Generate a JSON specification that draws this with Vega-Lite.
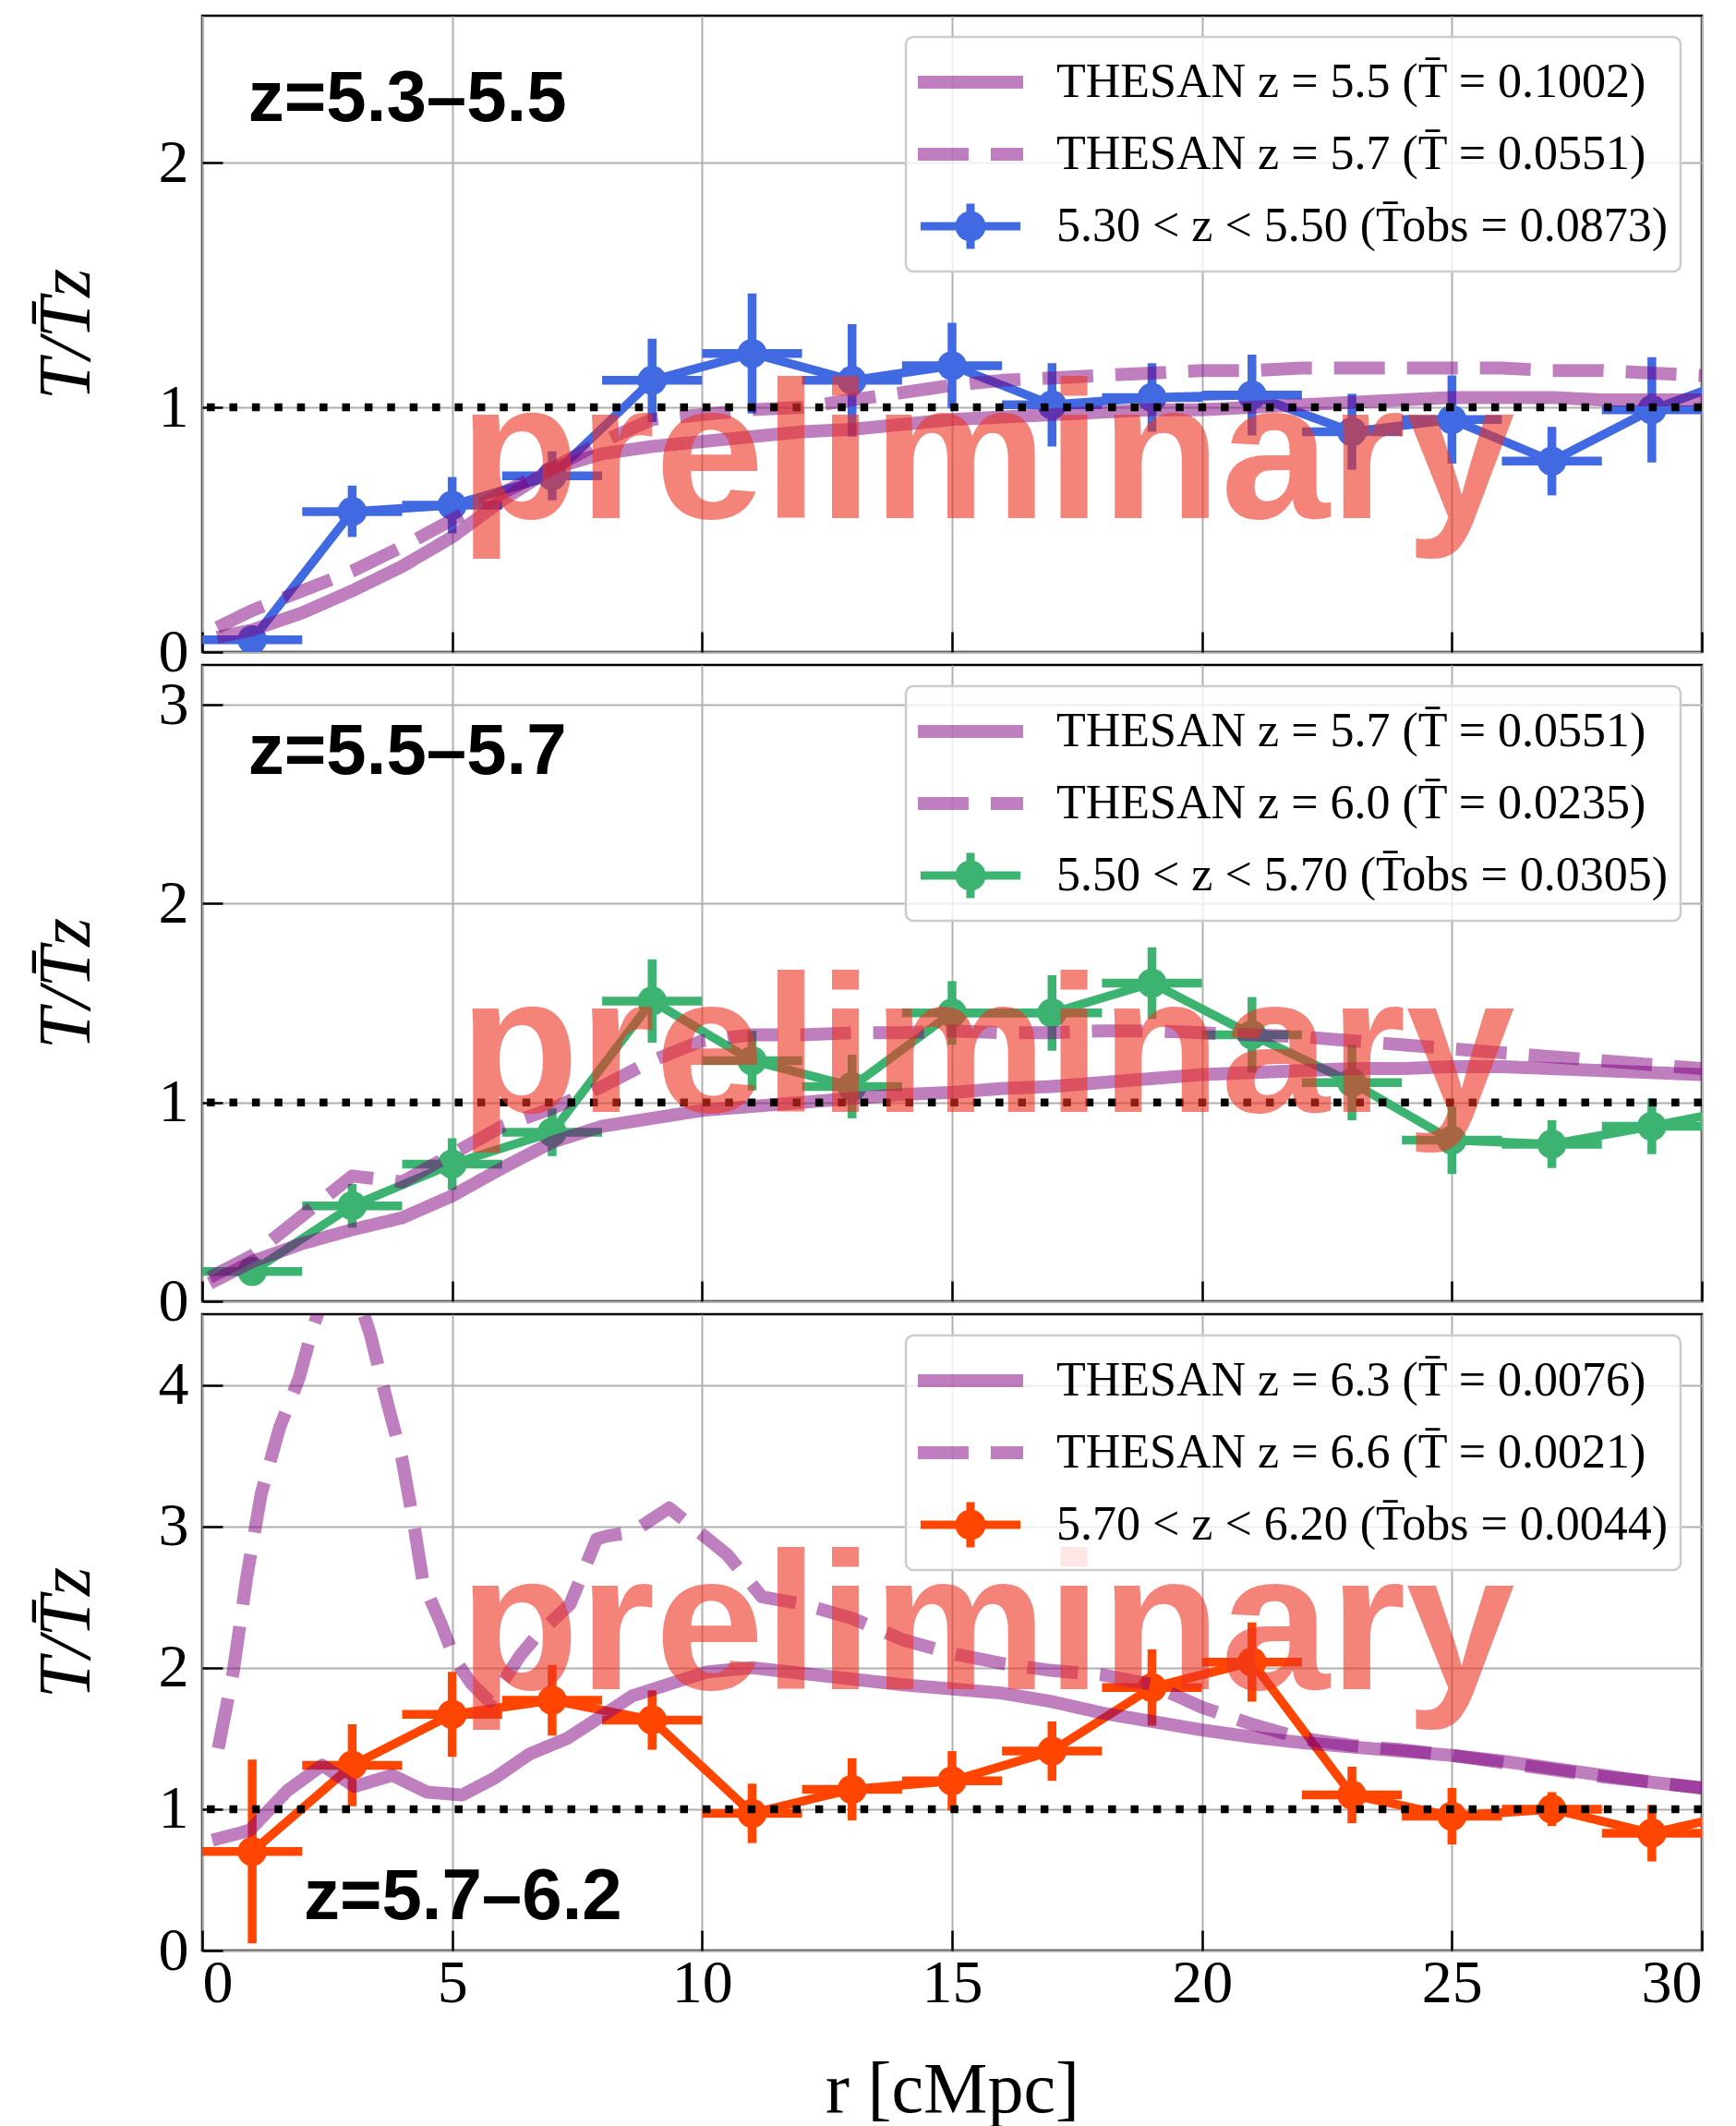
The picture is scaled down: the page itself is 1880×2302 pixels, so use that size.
{
"$schema": "https://vega.github.io/schema/vega-lite/v6.json",
"background": "white",
"padding": {"left": 30, "top": 15, "right": 10, "bottom": 10},
"spacing": 14,
"bounds": "flush",
"config": {
  "view": {"stroke": "black", "strokeWidth": 2.5},
  "axis": {"domain": false, "grid": true, "tickColor": "black", "tickWidth": 2.5, "tickSize": -22, "labelFont": "Liberation Serif", "labelFontSize": 66, "labelColor": "black", "gridColor": "#b0b0b0", "gridWidth": 2, "gridOpacity": 1, "titleFont": "Liberation Serif", "titleFontSize": 74, "titleFontWeight": "normal", "titleColor": "black"},
  "axisY": {"labelPadding": 37, "titlePadding": 58, "titleFontStyle": "italic", "titleFontSize": 80},
  "axisX": {"labelPadding": 25, "titlePadding": 44, "titleFontSize": 78},
  "legend": {"orient": "top-right", "offset": 23, "padding": 13, "rowPadding": 6, "clipHeight": 72, "fillColor": "rgba(255,255,255,0.8)", "strokeColor": "#cccccc", "cornerRadius": 8, "labelFont": "Liberation Serif", "labelFontSize": 52, "labelColor": "black", "labelLimit": 1500, "symbolSize": 2116, "symbolOffset": 31, "labelOffset": 67, "symbolStrokeWidth": 14}
},
"datasets": {
  "obs1": [
    {"r":1,"rlo":0,"rhi":2,"T":0.05,"lo":0.01,"hi":0.09},
    {"r":3,"rlo":2,"rhi":4,"T":0.574,"lo":0.47,"hi":0.68},
    {"r":5,"rlo":4,"rhi":6,"T":0.6,"lo":0.485,"hi":0.715},
    {"r":7,"rlo":6,"rhi":8,"T":0.72,"lo":0.62,"hi":0.82},
    {"r":9,"rlo":8,"rhi":10,"T":1.11,"lo":0.94,"hi":1.28},
    {"r":11,"rlo":10,"rhi":12,"T":1.22,"lo":0.975,"hi":1.465},
    {"r":13,"rlo":12,"rhi":14,"T":1.11,"lo":0.88,"hi":1.34},
    {"r":15,"rlo":14,"rhi":16,"T":1.17,"lo":0.995,"hi":1.345},
    {"r":17,"rlo":16,"rhi":18,"T":1.01,"lo":0.84,"hi":1.18},
    {"r":19,"rlo":18,"rhi":20,"T":1.04,"lo":0.9,"hi":1.18},
    {"r":21,"rlo":20,"rhi":22,"T":1.05,"lo":0.885,"hi":1.215},
    {"r":23,"rlo":22,"rhi":24,"T":0.9,"lo":0.745,"hi":1.055},
    {"r":25,"rlo":24,"rhi":26,"T":0.95,"lo":0.77,"hi":1.13},
    {"r":27,"rlo":26,"rhi":28,"T":0.78,"lo":0.64,"hi":0.92},
    {"r":29,"rlo":28,"rhi":30,"T":0.99,"lo":0.775,"hi":1.205},
    {"r":31,"rlo":30,"rhi":32,"T":1.14,"lo":0.95,"hi":1.33}
  ],
  "obs2": [
    {"r":1,"rlo":0,"rhi":2,"T":0.15,"lo":0.12,"hi":0.18},
    {"r":3,"rlo":2,"rhi":4,"T":0.48,"lo":0.37,"hi":0.59},
    {"r":5,"rlo":4,"rhi":6,"T":0.69,"lo":0.56,"hi":0.82},
    {"r":7,"rlo":6,"rhi":8,"T":0.85,"lo":0.73,"hi":0.97},
    {"r":9,"rlo":8,"rhi":10,"T":1.51,"lo":1.3,"hi":1.72},
    {"r":11,"rlo":10,"rhi":12,"T":1.21,"lo":1.06,"hi":1.36},
    {"r":13,"rlo":12,"rhi":14,"T":1.08,"lo":0.92,"hi":1.24},
    {"r":15,"rlo":14,"rhi":16,"T":1.45,"lo":1.29,"hi":1.61},
    {"r":17,"rlo":16,"rhi":18,"T":1.45,"lo":1.26,"hi":1.64},
    {"r":19,"rlo":18,"rhi":20,"T":1.6,"lo":1.42,"hi":1.78},
    {"r":21,"rlo":20,"rhi":22,"T":1.34,"lo":1.15,"hi":1.53},
    {"r":23,"rlo":22,"rhi":24,"T":1.1,"lo":0.91,"hi":1.29},
    {"r":25,"rlo":24,"rhi":26,"T":0.81,"lo":0.64,"hi":0.98},
    {"r":27,"rlo":26,"rhi":28,"T":0.79,"lo":0.67,"hi":0.91},
    {"r":29,"rlo":28,"rhi":30,"T":0.88,"lo":0.74,"hi":1.02},
    {"r":31,"rlo":30,"rhi":32,"T":0.98,"lo":0.84,"hi":1.12}
  ],
  "obs3": [
    {"r":1,"rlo":0,"rhi":2,"T":0.7,"lo":0.05,"hi":1.35},
    {"r":3,"rlo":2,"rhi":4,"T":1.31,"lo":1.02,"hi":1.6},
    {"r":5,"rlo":4,"rhi":6,"T":1.67,"lo":1.37,"hi":1.97},
    {"r":7,"rlo":6,"rhi":8,"T":1.77,"lo":1.52,"hi":2.02},
    {"r":9,"rlo":8,"rhi":10,"T":1.63,"lo":1.42,"hi":1.84},
    {"r":11,"rlo":10,"rhi":12,"T":0.97,"lo":0.76,"hi":1.18},
    {"r":13,"rlo":12,"rhi":14,"T":1.14,"lo":0.92,"hi":1.36},
    {"r":15,"rlo":14,"rhi":16,"T":1.2,"lo":0.99,"hi":1.41},
    {"r":17,"rlo":16,"rhi":18,"T":1.41,"lo":1.2,"hi":1.62},
    {"r":19,"rlo":18,"rhi":20,"T":1.86,"lo":1.59,"hi":2.13},
    {"r":21,"rlo":20,"rhi":22,"T":2.04,"lo":1.76,"hi":2.32},
    {"r":23,"rlo":22,"rhi":24,"T":1.1,"lo":0.9,"hi":1.3},
    {"r":25,"rlo":24,"rhi":26,"T":0.95,"lo":0.75,"hi":1.15},
    {"r":27,"rlo":26,"rhi":28,"T":1.0,"lo":0.88,"hi":1.12},
    {"r":29,"rlo":28,"rhi":30,"T":0.83,"lo":0.63,"hi":1.03},
    {"r":31,"rlo":30,"rhi":32,"T":0.99,"lo":0.8,"hi":1.18}
  ],
  "th1": [
    {"series":"a","kind":"solid","r":0.3,"T":0.06},{"series":"a","kind":"solid","r":1,"T":0.09},{"series":"a","kind":"solid","r":2,"T":0.16},{"series":"a","kind":"solid","r":3,"T":0.25},{"series":"a","kind":"solid","r":4,"T":0.35},{"series":"a","kind":"solid","r":5,"T":0.47},{"series":"a","kind":"solid","r":6,"T":0.62},{"series":"a","kind":"solid","r":7,"T":0.75},{"series":"a","kind":"solid","r":8,"T":0.81},{"series":"a","kind":"solid","r":9,"T":0.84},{"series":"a","kind":"solid","r":10,"T":0.86},{"series":"a","kind":"solid","r":11,"T":0.88},{"series":"a","kind":"solid","r":12,"T":0.9},{"series":"a","kind":"solid","r":13,"T":0.91},{"series":"a","kind":"solid","r":14,"T":0.93},{"series":"a","kind":"solid","r":15,"T":0.95},{"series":"a","kind":"solid","r":16,"T":0.96},{"series":"a","kind":"solid","r":17,"T":0.97},{"series":"a","kind":"solid","r":18,"T":0.98},{"series":"a","kind":"solid","r":19,"T":0.99},{"series":"a","kind":"solid","r":20,"T":0.99},{"series":"a","kind":"solid","r":21,"T":1.0},{"series":"a","kind":"solid","r":22,"T":1.01},{"series":"a","kind":"solid","r":23,"T":1.02},{"series":"a","kind":"solid","r":24,"T":1.03},{"series":"a","kind":"solid","r":25,"T":1.04},{"series":"a","kind":"solid","r":26,"T":1.04},{"series":"a","kind":"solid","r":27,"T":1.04},{"series":"a","kind":"solid","r":28,"T":1.03},{"series":"a","kind":"solid","r":29,"T":1.03},{"series":"a","kind":"solid","r":30,"T":1.03},
    {"series":"b","kind":"dashed","r":0.3,"T":0.1},{"series":"b","kind":"dashed","r":1,"T":0.17},{"series":"b","kind":"dashed","r":2,"T":0.25},{"series":"b","kind":"dashed","r":3,"T":0.33},{"series":"b","kind":"dashed","r":4,"T":0.43},{"series":"b","kind":"dashed","r":5,"T":0.54},{"series":"b","kind":"dashed","r":6,"T":0.65},{"series":"b","kind":"dashed","r":7,"T":0.75},{"series":"b","kind":"dashed","r":8,"T":0.86},{"series":"b","kind":"dashed","r":9,"T":0.95},{"series":"b","kind":"dashed","r":10,"T":0.97},{"series":"b","kind":"dashed","r":11,"T":0.99},{"series":"b","kind":"dashed","r":12,"T":1.0},{"series":"b","kind":"dashed","r":13,"T":1.03},{"series":"b","kind":"dashed","r":14,"T":1.06},{"series":"b","kind":"dashed","r":15,"T":1.09},{"series":"b","kind":"dashed","r":16,"T":1.11},{"series":"b","kind":"dashed","r":17,"T":1.12},{"series":"b","kind":"dashed","r":18,"T":1.13},{"series":"b","kind":"dashed","r":19,"T":1.14},{"series":"b","kind":"dashed","r":20,"T":1.15},{"series":"b","kind":"dashed","r":21,"T":1.15},{"series":"b","kind":"dashed","r":22,"T":1.16},{"series":"b","kind":"dashed","r":23,"T":1.16},{"series":"b","kind":"dashed","r":24,"T":1.16},{"series":"b","kind":"dashed","r":25,"T":1.16},{"series":"b","kind":"dashed","r":26,"T":1.16},{"series":"b","kind":"dashed","r":27,"T":1.15},{"series":"b","kind":"dashed","r":28,"T":1.15},{"series":"b","kind":"dashed","r":29,"T":1.14},{"series":"b","kind":"dashed","r":30,"T":1.13}
  ],
  "th2": [
    {"series":"a","kind":"solid","r":0.15,"T":0.09},{"series":"a","kind":"solid","r":1,"T":0.2},{"series":"a","kind":"solid","r":2,"T":0.29},{"series":"a","kind":"solid","r":3,"T":0.36},{"series":"a","kind":"solid","r":4,"T":0.42},{"series":"a","kind":"solid","r":5,"T":0.53},{"series":"a","kind":"solid","r":6,"T":0.67},{"series":"a","kind":"solid","r":7,"T":0.8},{"series":"a","kind":"solid","r":8,"T":0.88},{"series":"a","kind":"solid","r":9,"T":0.92},{"series":"a","kind":"solid","r":10,"T":0.96},{"series":"a","kind":"solid","r":11,"T":0.98},{"series":"a","kind":"solid","r":12,"T":1.0},{"series":"a","kind":"solid","r":13,"T":1.02},{"series":"a","kind":"solid","r":14,"T":1.04},{"series":"a","kind":"solid","r":15,"T":1.05},{"series":"a","kind":"solid","r":16,"T":1.07},{"series":"a","kind":"solid","r":17,"T":1.08},{"series":"a","kind":"solid","r":18,"T":1.1},{"series":"a","kind":"solid","r":19,"T":1.12},{"series":"a","kind":"solid","r":20,"T":1.14},{"series":"a","kind":"solid","r":21,"T":1.15},{"series":"a","kind":"solid","r":22,"T":1.16},{"series":"a","kind":"solid","r":23,"T":1.17},{"series":"a","kind":"solid","r":24,"T":1.17},{"series":"a","kind":"solid","r":25,"T":1.18},{"series":"a","kind":"solid","r":26,"T":1.18},{"series":"a","kind":"solid","r":27,"T":1.17},{"series":"a","kind":"solid","r":28,"T":1.16},{"series":"a","kind":"solid","r":29,"T":1.15},{"series":"a","kind":"solid","r":30,"T":1.14},
    {"series":"b","kind":"dashed","r":0.15,"T":0.12},{"series":"b","kind":"dashed","r":1,"T":0.23},{"series":"b","kind":"dashed","r":2,"T":0.43},{"series":"b","kind":"dashed","r":3,"T":0.63},{"series":"b","kind":"dashed","r":4,"T":0.6},{"series":"b","kind":"dashed","r":5,"T":0.74},{"series":"b","kind":"dashed","r":6,"T":0.88},{"series":"b","kind":"dashed","r":7,"T":0.97},{"series":"b","kind":"dashed","r":8,"T":1.08},{"series":"b","kind":"dashed","r":9,"T":1.21},{"series":"b","kind":"dashed","r":10,"T":1.31},{"series":"b","kind":"dashed","r":11,"T":1.34},{"series":"b","kind":"dashed","r":12,"T":1.34},{"series":"b","kind":"dashed","r":13,"T":1.35},{"series":"b","kind":"dashed","r":14,"T":1.35},{"series":"b","kind":"dashed","r":15,"T":1.36},{"series":"b","kind":"dashed","r":16,"T":1.35},{"series":"b","kind":"dashed","r":17,"T":1.35},{"series":"b","kind":"dashed","r":18,"T":1.36},{"series":"b","kind":"dashed","r":19,"T":1.36},{"series":"b","kind":"dashed","r":20,"T":1.35},{"series":"b","kind":"dashed","r":21,"T":1.34},{"series":"b","kind":"dashed","r":22,"T":1.33},{"series":"b","kind":"dashed","r":23,"T":1.31},{"series":"b","kind":"dashed","r":24,"T":1.29},{"series":"b","kind":"dashed","r":25,"T":1.27},{"series":"b","kind":"dashed","r":26,"T":1.25},{"series":"b","kind":"dashed","r":27,"T":1.23},{"series":"b","kind":"dashed","r":28,"T":1.21},{"series":"b","kind":"dashed","r":29,"T":1.19},{"series":"b","kind":"dashed","r":30,"T":1.17}
  ],
  "th3": [
    {"series":"a","kind":"solid","r":0.2,"T":0.78},{"series":"a","kind":"solid","r":0.95,"T":0.85},{"series":"a","kind":"solid","r":1.7,"T":1.13},{"series":"a","kind":"solid","r":2.4,"T":1.31},{"series":"a","kind":"solid","r":3.05,"T":1.16},{"series":"a","kind":"solid","r":3.8,"T":1.24},{"series":"a","kind":"solid","r":4.5,"T":1.12},{"series":"a","kind":"solid","r":5.2,"T":1.1},{"series":"a","kind":"solid","r":5.85,"T":1.22},{"series":"a","kind":"solid","r":6.55,"T":1.39},{"series":"a","kind":"solid","r":7.3,"T":1.5},{"series":"a","kind":"solid","r":8.0,"T":1.66},{"series":"a","kind":"solid","r":8.6,"T":1.8},{"series":"a","kind":"solid","r":9.3,"T":1.88},{"series":"a","kind":"solid","r":10.1,"T":1.97},{"series":"a","kind":"solid","r":11,"T":2.0},{"series":"a","kind":"solid","r":12,"T":1.96},{"series":"a","kind":"solid","r":13,"T":1.92},{"series":"a","kind":"solid","r":14,"T":1.88},{"series":"a","kind":"solid","r":15,"T":1.85},{"series":"a","kind":"solid","r":16,"T":1.82},{"series":"a","kind":"solid","r":17,"T":1.76},{"series":"a","kind":"solid","r":18,"T":1.68},{"series":"a","kind":"solid","r":19,"T":1.62},{"series":"a","kind":"solid","r":20,"T":1.56},{"series":"a","kind":"solid","r":21,"T":1.51},{"series":"a","kind":"solid","r":22,"T":1.47},{"series":"a","kind":"solid","r":23,"T":1.44},{"series":"a","kind":"solid","r":24,"T":1.41},{"series":"a","kind":"solid","r":25,"T":1.38},{"series":"a","kind":"solid","r":26,"T":1.34},{"series":"a","kind":"solid","r":27,"T":1.29},{"series":"a","kind":"solid","r":28,"T":1.24},{"series":"a","kind":"solid","r":29,"T":1.19},{"series":"a","kind":"solid","r":30,"T":1.15},
    {"series":"b","kind":"dashed","r":0.32,"T":1.43},{"series":"b","kind":"dashed","r":0.62,"T":1.97},{"series":"b","kind":"dashed","r":0.89,"T":2.64},{"series":"b","kind":"dashed","r":1.18,"T":3.23},{"series":"b","kind":"dashed","r":1.55,"T":3.7},{"series":"b","kind":"dashed","r":1.94,"T":4.05},{"series":"b","kind":"dashed","r":2.2,"T":4.39},{"series":"b","kind":"dashed","r":2.75,"T":4.95},{"series":"b","kind":"dashed","r":3.23,"T":4.5},{"series":"b","kind":"dashed","r":3.36,"T":4.36},{"series":"b","kind":"dashed","r":3.72,"T":3.85},{"series":"b","kind":"dashed","r":3.99,"T":3.49},{"series":"b","kind":"dashed","r":4.25,"T":2.98},{"series":"b","kind":"dashed","r":4.42,"T":2.6},{"series":"b","kind":"dashed","r":4.78,"T":2.31},{"series":"b","kind":"dashed","r":5.05,"T":2.06},{"series":"b","kind":"dashed","r":5.38,"T":1.89},{"series":"b","kind":"dashed","r":5.75,"T":1.76},{"series":"b","kind":"dashed","r":6.37,"T":2.09},{"series":"b","kind":"dashed","r":6.7,"T":2.23},{"series":"b","kind":"dashed","r":7.36,"T":2.45},{"series":"b","kind":"dashed","r":7.89,"T":2.91},{"series":"b","kind":"dashed","r":8.08,"T":2.93},{"series":"b","kind":"dashed","r":8.61,"T":2.96},{"series":"b","kind":"dashed","r":9.34,"T":3.13},{"series":"b","kind":"dashed","r":9.87,"T":2.98},{"series":"b","kind":"dashed","r":10.5,"T":2.8},{"series":"b","kind":"dashed","r":11.2,"T":2.5},{"series":"b","kind":"dashed","r":12,"T":2.45},{"series":"b","kind":"dashed","r":13,"T":2.35},{"series":"b","kind":"dashed","r":14,"T":2.2},{"series":"b","kind":"dashed","r":15,"T":2.1},{"series":"b","kind":"dashed","r":16,"T":2.03},{"series":"b","kind":"dashed","r":17,"T":1.98},{"series":"b","kind":"dashed","r":18,"T":1.95},{"series":"b","kind":"dashed","r":19,"T":1.88},{"series":"b","kind":"dashed","r":20,"T":1.72},{"series":"b","kind":"dashed","r":21,"T":1.6},{"series":"b","kind":"dashed","r":22,"T":1.5},{"series":"b","kind":"dashed","r":23,"T":1.45},{"series":"b","kind":"dashed","r":24,"T":1.42},{"series":"b","kind":"dashed","r":25,"T":1.38},{"series":"b","kind":"dashed","r":26,"T":1.33},{"series":"b","kind":"dashed","r":27,"T":1.28},{"series":"b","kind":"dashed","r":28,"T":1.23},{"series":"b","kind":"dashed","r":29,"T":1.19},{"series":"b","kind":"dashed","r":30,"T":1.15}
  ]
},
"resolve": {"scale": {"x": "independent", "y": "independent", "color": "independent", "strokeDash": "independent"}, "legend": {"color": "independent", "strokeDash": "independent"}, "axis": {"x": "independent", "y": "independent"}},
"vconcat": [
{
  "width": 1624, "height": 689,
  "layer": [
    {"data": {"name": "obs1"}, "mark": {"type": "rule", "color": "#4169e1", "strokeWidth": 9.5, "clip": true},
     "encoding": {"x": {"field": "rlo", "type": "quantitative", "scale": {"domain": [0, 30], "nice": false, "zero": false}, "axis": {"values": [0,5,10,15,20,25,30], "labels": false, "title": null}}, "x2": {"field": "rhi"},
                  "y": {"field": "T", "type": "quantitative", "scale": {"domain": [0, 2.6], "nice": false}, "axis": {"values": [0,1,2], "title": "T/T\u0304z"}}}},
    {"data": {"name": "obs1"}, "mark": {"type": "rule", "color": "#4169e1", "strokeWidth": 9.5, "clip": true},
     "encoding": {"x": {"field": "r", "type": "quantitative", "scale": {"domain": [0, 30], "nice": false, "zero": false}, "axis": {"values": [0,5,10,15,20,25,30], "labels": false, "title": null}},
                  "y": {"field": "lo", "type": "quantitative", "scale": {"domain": [0, 2.6], "nice": false}, "axis": {"values": [0,1,2], "title": "T/T\u0304z"}}, "y2": {"field": "hi"}}},
    {"data": {"name": "obs1"}, "mark": {"type": "line", "color": "#4169e1", "strokeWidth": 9.5, "strokeJoin": "round", "clip": true},
     "encoding": {"x": {"field": "r", "type": "quantitative", "scale": {"domain": [0, 30], "nice": false, "zero": false}, "axis": {"values": [0,5,10,15,20,25,30], "labels": false, "title": null}},
                  "y": {"field": "T", "type": "quantitative", "scale": {"domain": [0, 2.6], "nice": false}, "axis": {"values": [0,1,2], "title": "T/T\u0304z"}}}},
    {"data": {"name": "obs1"}, "mark": {"type": "point", "filled": true, "size": 1000, "opacity": 1, "color": "#4169e1", "clip": true},
     "encoding": {"x": {"field": "r", "type": "quantitative", "scale": {"domain": [0, 30], "nice": false, "zero": false}, "axis": {"values": [0,5,10,15,20,25,30], "labels": false, "title": null}},
                  "y": {"field": "T", "type": "quantitative", "scale": {"domain": [0, 2.6], "nice": false}, "axis": {"values": [0,1,2], "title": "T/T\u0304z"}}}},
    {"data": {"name": "th1"}, "mark": {"type": "line", "strokeWidth": 14, "opacity": 0.5, "strokeJoin": "round", "clip": true},
     "encoding": {"x": {"field": "r", "type": "quantitative", "scale": {"domain": [0, 30], "nice": false, "zero": false}, "axis": {"values": [0,5,10,15,20,25,30], "labels": false, "title": null}},
                  "y": {"field": "T", "type": "quantitative", "scale": {"domain": [0, 2.6], "nice": false}, "axis": {"values": [0,1,2], "title": "T/T\u0304z"}},
                  "strokeDash": {"field": "kind", "type": "nominal", "scale": {"domain": ["solid", "dashed"], "range": [[1, 0], [55, 24]]}, "legend": null},
                  "color": {"field": "series", "type": "nominal", "scale": {"domain": ["a", "b", "o"], "range": ["purple", "purple", "#4169e1"]},
                    "legend": {"title": null,
                      "labelExpr": "datum.value === 'a' ? 'THESAN z = 5.5 (T\u0304 = 0.1002)' : datum.value === 'b' ? 'THESAN z = 5.7 (T\u0304 = 0.0551)' : '5.30 < z < 5.50 (T\u0304obs = 0.0873)'",
                      "encoding": {"legend": {"strokeWidth": {"value": 2.5}},
                        "symbols": {
                          "shape": {"value": {"expr": "datum.value === 'o' ? 'M-2.35,0H2.35M0,-1.07V1.07M0.52,0C0.52,0.287,0.287,0.52,0,0.52C-0.287,0.52,-0.52,0.287,-0.52,0C-0.52,-0.287,-0.287,-0.52,0,-0.52C0.287,-0.52,0.52,-0.287,0.52,0Z' : 'M-2.48,0H2.48'"}},
                          "fill": {"value": {"expr": "datum.value === 'o' ? '#4169e1' : 'transparent'"}},
                          "strokeWidth": {"value": {"expr": "datum.value === 'o' ? 9 : 14"}},
                          "strokeDash": {"value": {"expr": "datum.value === 'b' ? [55, 24] : [1, 0]"}},
                          "opacity": {"value": {"expr": "datum.value === 'o' ? 1 : 0.5"}}}}}}}},
    {"data": {"values": [{}]}, "mark": {"type": "rule", "color": "black", "strokeWidth": 8.5, "strokeDash": [8.5, 15.9]},
     "encoding": {"y": {"datum": 1, "type": "quantitative", "scale": {"domain": [0, 2.6], "nice": false}, "axis": {"values": [0,1,2], "title": "T/T\u0304z"}}}},
    {"data": {"values": [{}]}, "mark": {"type": "text", "font": "Liberation Sans", "fontWeight": "bold", "fontSize": 212, "color": "#ee3322", "opacity": 0.6, "align": "center", "baseline": "alphabetic"},
     "encoding": {"x": {"datum": 15.7, "type": "quantitative", "scale": {"domain": [0, 30], "nice": false, "zero": false}, "axis": {"values": [0,5,10,15,20,25,30], "labels": false, "title": null}},
                  "y": {"datum": 0.547, "type": "quantitative", "scale": {"domain": [0, 2.6], "nice": false}, "axis": {"values": [0,1,2], "title": "T/T\u0304z"}},
                  "text": {"value": "preliminary"}}},
    {"data": {"values": [{}]}, "mark": {"type": "text", "font": "Liberation Sans", "fontWeight": "bold", "fontSize": 78, "color": "black", "align": "left", "baseline": "alphabetic"},
     "encoding": {"x": {"datum": 0.92, "type": "quantitative", "scale": {"domain": [0, 30], "nice": false, "zero": false}, "axis": {"values": [0,5,10,15,20,25,30], "labels": false, "title": null}},
                  "y": {"datum": 2.17, "type": "quantitative", "scale": {"domain": [0, 2.6], "nice": false}, "axis": {"values": [0,1,2], "title": "T/T\u0304z"}},
                  "text": {"value": "z=5.3\u20135.5"}}}
  ]
},
{
  "width": 1624, "height": 689,
  "layer": [
    {"data": {"name": "obs2"}, "mark": {"type": "rule", "color": "#3cb371", "strokeWidth": 9.5, "clip": true},
     "encoding": {"x": {"field": "rlo", "type": "quantitative", "scale": {"domain": [0, 30], "nice": false, "zero": false}, "axis": {"values": [0,5,10,15,20,25,30], "labels": false, "title": null}}, "x2": {"field": "rhi"},
                  "y": {"field": "T", "type": "quantitative", "scale": {"domain": [0, 3.2], "nice": false}, "axis": {"values": [0,1,2,3], "title": "T/T\u0304z"}}}},
    {"data": {"name": "obs2"}, "mark": {"type": "rule", "color": "#3cb371", "strokeWidth": 9.5, "clip": true},
     "encoding": {"x": {"field": "r", "type": "quantitative", "scale": {"domain": [0, 30], "nice": false, "zero": false}, "axis": {"values": [0,5,10,15,20,25,30], "labels": false, "title": null}},
                  "y": {"field": "lo", "type": "quantitative", "scale": {"domain": [0, 3.2], "nice": false}, "axis": {"values": [0,1,2,3], "title": "T/T\u0304z"}}, "y2": {"field": "hi"}}},
    {"data": {"name": "obs2"}, "mark": {"type": "line", "color": "#3cb371", "strokeWidth": 9.5, "strokeJoin": "round", "clip": true},
     "encoding": {"x": {"field": "r", "type": "quantitative", "scale": {"domain": [0, 30], "nice": false, "zero": false}, "axis": {"values": [0,5,10,15,20,25,30], "labels": false, "title": null}},
                  "y": {"field": "T", "type": "quantitative", "scale": {"domain": [0, 3.2], "nice": false}, "axis": {"values": [0,1,2,3], "title": "T/T\u0304z"}}}},
    {"data": {"name": "obs2"}, "mark": {"type": "point", "filled": true, "size": 1000, "opacity": 1, "color": "#3cb371", "clip": true},
     "encoding": {"x": {"field": "r", "type": "quantitative", "scale": {"domain": [0, 30], "nice": false, "zero": false}, "axis": {"values": [0,5,10,15,20,25,30], "labels": false, "title": null}},
                  "y": {"field": "T", "type": "quantitative", "scale": {"domain": [0, 3.2], "nice": false}, "axis": {"values": [0,1,2,3], "title": "T/T\u0304z"}}}},
    {"data": {"name": "th2"}, "mark": {"type": "line", "strokeWidth": 14, "opacity": 0.5, "strokeJoin": "round", "clip": true},
     "encoding": {"x": {"field": "r", "type": "quantitative", "scale": {"domain": [0, 30], "nice": false, "zero": false}, "axis": {"values": [0,5,10,15,20,25,30], "labels": false, "title": null}},
                  "y": {"field": "T", "type": "quantitative", "scale": {"domain": [0, 3.2], "nice": false}, "axis": {"values": [0,1,2,3], "title": "T/T\u0304z"}},
                  "strokeDash": {"field": "kind", "type": "nominal", "scale": {"domain": ["solid", "dashed"], "range": [[1, 0], [55, 24]]}, "legend": null},
                  "color": {"field": "series", "type": "nominal", "scale": {"domain": ["a", "b", "o"], "range": ["purple", "purple", "#3cb371"]},
                    "legend": {"title": null,
                      "labelExpr": "datum.value === 'a' ? 'THESAN z = 5.7 (T\u0304 = 0.0551)' : datum.value === 'b' ? 'THESAN z = 6.0 (T\u0304 = 0.0235)' : '5.50 < z < 5.70 (T\u0304obs = 0.0305)'",
                      "encoding": {"legend": {"strokeWidth": {"value": 2.5}},
                        "symbols": {
                          "shape": {"value": {"expr": "datum.value === 'o' ? 'M-2.35,0H2.35M0,-1.07V1.07M0.52,0C0.52,0.287,0.287,0.52,0,0.52C-0.287,0.52,-0.52,0.287,-0.52,0C-0.52,-0.287,-0.287,-0.52,0,-0.52C0.287,-0.52,0.52,-0.287,0.52,0Z' : 'M-2.48,0H2.48'"}},
                          "fill": {"value": {"expr": "datum.value === 'o' ? '#3cb371' : 'transparent'"}},
                          "strokeWidth": {"value": {"expr": "datum.value === 'o' ? 9 : 14"}},
                          "strokeDash": {"value": {"expr": "datum.value === 'b' ? [55, 24] : [1, 0]"}},
                          "opacity": {"value": {"expr": "datum.value === 'o' ? 1 : 0.5"}}}}}}}},
    {"data": {"values": [{}]}, "mark": {"type": "rule", "color": "black", "strokeWidth": 8.5, "strokeDash": [8.5, 15.9]},
     "encoding": {"y": {"datum": 1, "type": "quantitative", "scale": {"domain": [0, 3.2], "nice": false}, "axis": {"values": [0,1,2,3], "title": "T/T\u0304z"}}}},
    {"data": {"values": [{}]}, "mark": {"type": "text", "font": "Liberation Sans", "fontWeight": "bold", "fontSize": 212, "color": "#ee3322", "opacity": 0.6, "align": "center", "baseline": "alphabetic"},
     "encoding": {"x": {"datum": 15.7, "type": "quantitative", "scale": {"domain": [0, 30], "nice": false, "zero": false}, "axis": {"values": [0,5,10,15,20,25,30], "labels": false, "title": null}},
                  "y": {"datum": 0.95, "type": "quantitative", "scale": {"domain": [0, 3.2], "nice": false}, "axis": {"values": [0,1,2,3], "title": "T/T\u0304z"}},
                  "text": {"value": "preliminary"}}},
    {"data": {"values": [{}]}, "mark": {"type": "text", "font": "Liberation Sans", "fontWeight": "bold", "fontSize": 78, "color": "black", "align": "left", "baseline": "alphabetic"},
     "encoding": {"x": {"datum": 0.92, "type": "quantitative", "scale": {"domain": [0, 30], "nice": false, "zero": false}, "axis": {"values": [0,5,10,15,20,25,30], "labels": false, "title": null}},
                  "y": {"datum": 2.65, "type": "quantitative", "scale": {"domain": [0, 3.2], "nice": false}, "axis": {"values": [0,1,2,3], "title": "T/T\u0304z"}},
                  "text": {"value": "z=5.5\u20135.7"}}}
  ]
},
{
  "width": 1624, "height": 689,
  "layer": [
    {"data": {"name": "obs3"}, "mark": {"type": "rule", "color": "#ff4500", "strokeWidth": 9.5, "clip": true},
     "encoding": {"x": {"field": "rlo", "type": "quantitative", "scale": {"domain": [0, 30], "nice": false, "zero": false}, "axis": {"values": [0,5,10,15,20,25,30], "title": "r [cMpc]"}}, "x2": {"field": "rhi"},
                  "y": {"field": "T", "type": "quantitative", "scale": {"domain": [0, 4.5], "nice": false}, "axis": {"values": [0,1,2,3,4], "title": "T/T\u0304z"}}}},
    {"data": {"name": "obs3"}, "mark": {"type": "rule", "color": "#ff4500", "strokeWidth": 9.5, "clip": true},
     "encoding": {"x": {"field": "r", "type": "quantitative", "scale": {"domain": [0, 30], "nice": false, "zero": false}, "axis": {"values": [0,5,10,15,20,25,30], "title": "r [cMpc]"}},
                  "y": {"field": "lo", "type": "quantitative", "scale": {"domain": [0, 4.5], "nice": false}, "axis": {"values": [0,1,2,3,4], "title": "T/T\u0304z"}}, "y2": {"field": "hi"}}},
    {"data": {"name": "obs3"}, "mark": {"type": "line", "color": "#ff4500", "strokeWidth": 9.5, "strokeJoin": "round", "clip": true},
     "encoding": {"x": {"field": "r", "type": "quantitative", "scale": {"domain": [0, 30], "nice": false, "zero": false}, "axis": {"values": [0,5,10,15,20,25,30], "title": "r [cMpc]"}},
                  "y": {"field": "T", "type": "quantitative", "scale": {"domain": [0, 4.5], "nice": false}, "axis": {"values": [0,1,2,3,4], "title": "T/T\u0304z"}}}},
    {"data": {"name": "obs3"}, "mark": {"type": "point", "filled": true, "size": 1000, "opacity": 1, "color": "#ff4500", "clip": true},
     "encoding": {"x": {"field": "r", "type": "quantitative", "scale": {"domain": [0, 30], "nice": false, "zero": false}, "axis": {"values": [0,5,10,15,20,25,30], "title": "r [cMpc]"}},
                  "y": {"field": "T", "type": "quantitative", "scale": {"domain": [0, 4.5], "nice": false}, "axis": {"values": [0,1,2,3,4], "title": "T/T\u0304z"}}}},
    {"data": {"name": "th3"}, "mark": {"type": "line", "strokeWidth": 14, "opacity": 0.5, "strokeJoin": "round", "clip": true},
     "encoding": {"x": {"field": "r", "type": "quantitative", "scale": {"domain": [0, 30], "nice": false, "zero": false}, "axis": {"values": [0,5,10,15,20,25,30], "title": "r [cMpc]"}},
                  "y": {"field": "T", "type": "quantitative", "scale": {"domain": [0, 4.5], "nice": false}, "axis": {"values": [0,1,2,3,4], "title": "T/T\u0304z"}},
                  "strokeDash": {"field": "kind", "type": "nominal", "scale": {"domain": ["solid", "dashed"], "range": [[1, 0], [55, 24]]}, "legend": null},
                  "color": {"field": "series", "type": "nominal", "scale": {"domain": ["a", "b", "o"], "range": ["purple", "purple", "#ff4500"]},
                    "legend": {"title": null,
                      "labelExpr": "datum.value === 'a' ? 'THESAN z = 6.3 (T\u0304 = 0.0076)' : datum.value === 'b' ? 'THESAN z = 6.6 (T\u0304 = 0.0021)' : '5.70 < z < 6.20 (T\u0304obs = 0.0044)'",
                      "encoding": {"legend": {"strokeWidth": {"value": 2.5}},
                        "symbols": {
                          "shape": {"value": {"expr": "datum.value === 'o' ? 'M-2.35,0H2.35M0,-1.07V1.07M0.52,0C0.52,0.287,0.287,0.52,0,0.52C-0.287,0.52,-0.52,0.287,-0.52,0C-0.52,-0.287,-0.287,-0.52,0,-0.52C0.287,-0.52,0.52,-0.287,0.52,0Z' : 'M-2.48,0H2.48'"}},
                          "fill": {"value": {"expr": "datum.value === 'o' ? '#ff4500' : 'transparent'"}},
                          "strokeWidth": {"value": {"expr": "datum.value === 'o' ? 9 : 14"}},
                          "strokeDash": {"value": {"expr": "datum.value === 'b' ? [55, 24] : [1, 0]"}},
                          "opacity": {"value": {"expr": "datum.value === 'o' ? 1 : 0.5"}}}}}}}},
    {"data": {"values": [{}]}, "mark": {"type": "rule", "color": "black", "strokeWidth": 8.5, "strokeDash": [8.5, 15.9]},
     "encoding": {"y": {"datum": 1, "type": "quantitative", "scale": {"domain": [0, 4.5], "nice": false}, "axis": {"values": [0,1,2,3,4], "title": "T/T\u0304z"}}}},
    {"data": {"values": [{}]}, "mark": {"type": "text", "font": "Liberation Sans", "fontWeight": "bold", "fontSize": 212, "color": "#ee3322", "opacity": 0.6, "align": "center", "baseline": "alphabetic"},
     "encoding": {"x": {"datum": 15.7, "type": "quantitative", "scale": {"domain": [0, 30], "nice": false, "zero": false}, "axis": {"values": [0,5,10,15,20,25,30], "title": "r [cMpc]"}},
                  "y": {"datum": 1.85, "type": "quantitative", "scale": {"domain": [0, 4.5], "nice": false}, "axis": {"values": [0,1,2,3,4], "title": "T/T\u0304z"}},
                  "text": {"value": "preliminary"}}},
    {"data": {"values": [{}]}, "mark": {"type": "text", "font": "Liberation Sans", "fontWeight": "bold", "fontSize": 78, "color": "black", "align": "left", "baseline": "alphabetic"},
     "encoding": {"x": {"datum": 2.03, "type": "quantitative", "scale": {"domain": [0, 30], "nice": false, "zero": false}, "axis": {"values": [0,5,10,15,20,25,30], "title": "r [cMpc]"}},
                  "y": {"datum": 0.22, "type": "quantitative", "scale": {"domain": [0, 4.5], "nice": false}, "axis": {"values": [0,1,2,3,4], "title": "T/T\u0304z"}},
                  "text": {"value": "z=5.7\u20136.2"}}}
  ]
}
]
}
